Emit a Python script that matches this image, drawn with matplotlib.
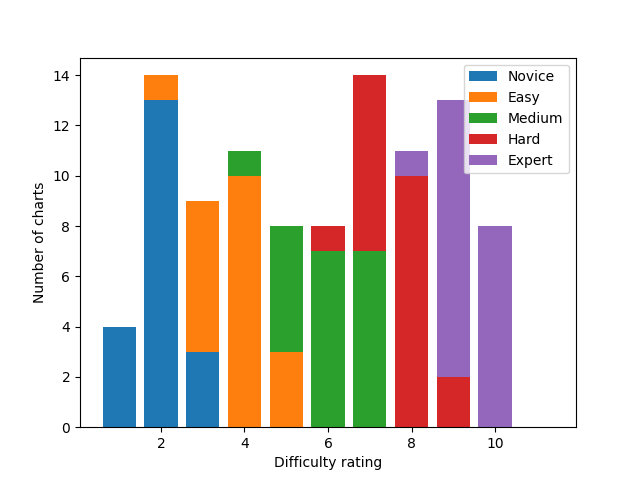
import numpy as np
import matplotlib
matplotlib.use("Agg")
import matplotlib.pyplot as plt

# Data

ratings = np.arange(1, 12)

novice = [4, 13, 3, 0, 0, 0, 0, 0, 0, 0, 0]
easy = [0, 1, 6, 10, 3, 0, 0, 0, 0, 0, 0]
medium = [0, 0, 0, 1, 5, 7, 7, 0, 0, 0, 0]
hard = [0, 0, 0, 0, 0, 1, 7, 10, 2, 0, 0]
expert = [0, 0, 0, 0, 0, 0, 0, 1, 11, 8, 0]

series = [
    ("Novice", novice),
    ("Easy", easy),
    ("Medium", medium),
    ("Hard", hard),
    ("Expert", expert),
]

# Plot

fig, ax = plt.subplots(figsize=(6.4, 4.8), dpi=100)

bottom = np.zeros(len(ratings))

for name, values in series:
    values = np.array(values)
    ax.bar(ratings, values, bottom=bottom, label=name)
    bottom += values

# leave the usual 5% headroom above the tallest stack
ax.set_ylim(0, bottom.max() * 1.05)

ax.set_xlabel("Difficulty rating")
ax.set_ylabel("Number of charts")

ax.legend(loc="upper right")

plt.savefig("out.png", dpi=100)
